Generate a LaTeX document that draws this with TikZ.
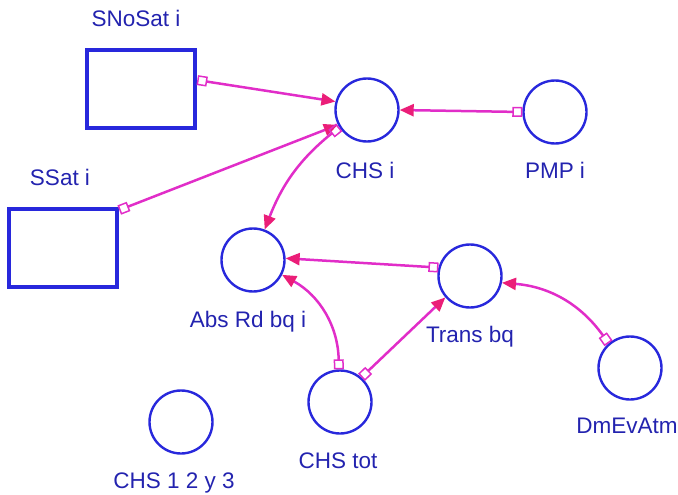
\documentclass[tikz,border=0pt]{standalone}
\usepackage{fontspec}
\setmainfont{Liberation Sans}
\usetikzlibrary{arrows.meta}
\definecolor{SimBlue}{RGB}{40,40,220}
\definecolor{TxtBlue}{RGB}{35,35,175}
\definecolor{LinkMag}{RGB}{225,45,200}
\definecolor{TipRed}{RGB}{235,30,120}

\begin{document}
\begin{tikzpicture}[x=1pt, y=-1pt,
  every node/.style={font=\fontsize{22.5}{26}\selectfont, text=TxtBlue},
  stock/.style={rectangle, draw=SimBlue, line width=4.5pt, minimum width=108pt, minimum height=78pt, inner sep=0pt},
  aux/.style={circle, draw=SimBlue, line width=2.4pt, minimum size=63pt, inner sep=0pt},
  lbl/.style={anchor=base, inner sep=0pt},
  link/.style={draw=LinkMag, line width=2.5pt,
    arrows={Square[open,length=10pt,width=10pt,line width=1.5pt]-Triangle[length=14pt,width=12pt,color=TipRed]}}]
\useasboundingbox (0,0) rectangle (678,495);

% stocks
\node[stock] (snosat) at (141,89) {};
\node[lbl] (lsnosat) at (136,27) {SNoSat i};
\node[stock] (ssat) at (63,248) {};
\node[lbl] (lssat) at (60,185) {SSat i};

% auxiliaries
\node[aux] (chsi) at (367,110) {};
\node[lbl] (lchsi) at (365,178) {CHS i};
\node[aux] (pmpi) at (555,112) {};
\node[lbl] (lpmpi) at (555,178) {PMP i};
\node[aux] (absrd) at (253,260) {};
\node[lbl] (labsrd) at (248,327) {Abs Rd bq i};
\node[aux] (transbq) at (470,276) {};
\node[lbl] (ltransbq) at (470,342) {Trans bq};
\node[aux] (chstot) at (340,402) {};
\node[lbl] (lchstot) at (338,468) {CHS tot};
\node[aux] (dmev) at (630,368) {};
\node[lbl] (ldmev) at (627,433) {DmEvAtm};
\node[aux] (chs123) at (181,422) {};
\node[lbl] (lchs123) at (174,488) {CHS 1 2 y 3};

% links
\draw[link] (snosat.9) -- (chsi.165);
\draw[link] (ssat.34) -- (chsi.207);
\draw[link] (pmpi.180) -- (chsi.0);
\draw[link] (chsi.212) to[bend right=15] (absrd.69);
\draw[link] (transbq.165) -- (absrd.3);
\draw[link] (chstot.92) to[bend right=30] (absrd.-27);
\draw[link] (chstot.49) -- (transbq.221);
\draw[link] (dmev.131) to[bend right=25] (transbq.-12);
\end{tikzpicture}
\end{document}
